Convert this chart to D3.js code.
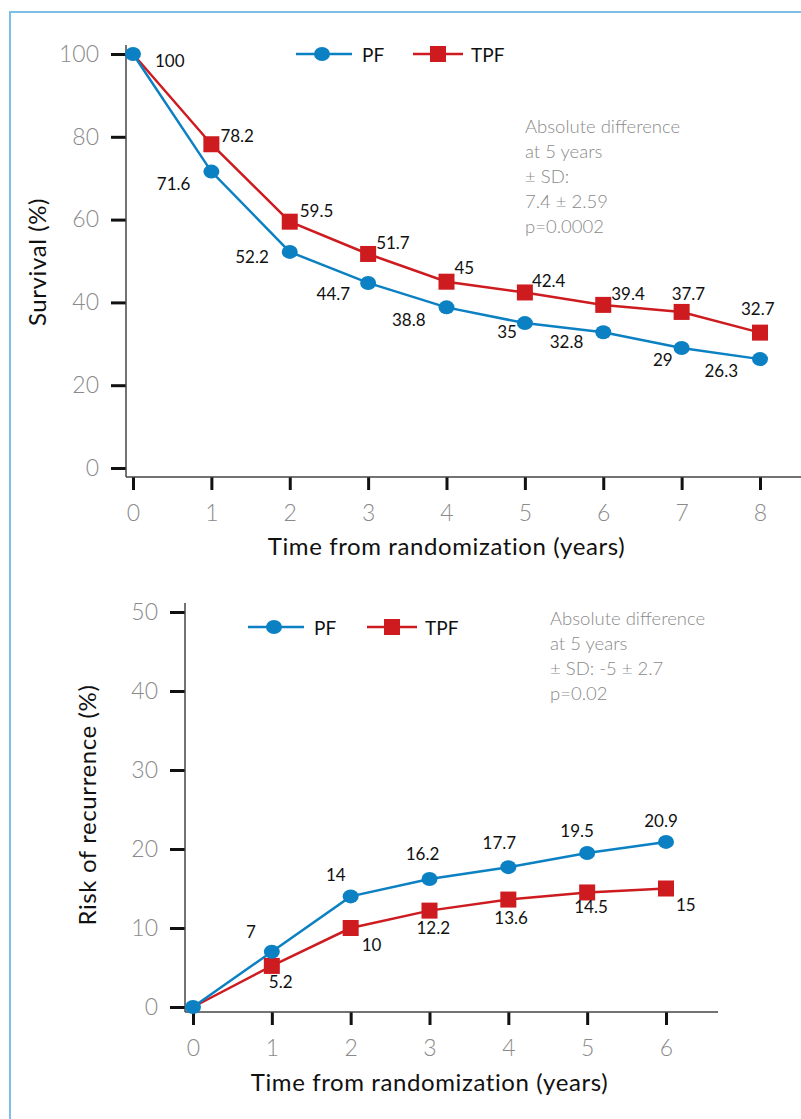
<!DOCTYPE html>
<html>
<head>
<meta charset="utf-8">
<script src="https://cdn.jsdelivr.net/npm/d3@7"></script>
<style>
  body { margin: 0; background: #fff; }
  svg { display: block; }
  .tick text { font-family: Lato, "Open Sans", sans-serif; font-weight: 300; fill: #8a8a8a; }
  .lbl { font-family: Lato, "Liberation Sans", sans-serif; font-size: 17px; fill: #111; }
  .title { font-family: Lato, "Liberation Sans", sans-serif; font-size: 24px; letter-spacing: 0.6px; fill: #111; }
  .note { font-family: Lato, "Open Sans", sans-serif; font-weight: 300; font-size: 18.5px; fill: #8a8a8a; }
</style>
</head>
<body>
<script>
'use strict';

var width = 801,
    height = 1119,
    blue = "#0b80c2",
    red = "#cd1b20";

// survival chart
var survYears = [0, 1, 2, 3, 4, 5, 6, 7, 8],
    survPF = [100, 71.6, 52.2, 44.7, 38.8, 35, 32.8, 29, 26.3],
    survTPF = [100, 78.2, 59.5, 51.7, 45, 42.4, 39.4, 37.7, 32.7],
    survYTicks = [0, 20, 40, 60, 80, 100],
    survNote = ["Absolute difference", "at 5 years", "\u00b1 SD:", "7.4 \u00b1 2.59", "p=0.0002"];

// recurrence chart
var recYears = [0, 1, 2, 3, 4, 5, 6],
    recPF = [0, 7, 14, 16.2, 17.7, 19.5, 20.9],
    recTPF = [0, 5.2, 10, 12.2, 13.6, 14.5, 15],
    recYTicks = [0, 10, 20, 30, 40, 50],
    recNote = ["Absolute difference", "at 5 years", "\u00b1 SD: -5 \u00b1 2.7", "p=0.02"];

// where each value label sits relative to its marker: [anchor, dx, dy], null = no label
var survPFLabelPos = [["start", 22, 13], ["end", -21, 18], ["end", -21, 11], ["end", -18, 17],
                      ["end", -21, 19], ["end", -8, 15], ["end", -20, 16], ["end", -9, 18], ["end", -22, 18]];
var survTPFLabelPos = [null, ["start", 9, -2], ["start", 10, -5], ["start", 8, -5], ["start", 8, -8],
                       ["start", 7, -5], ["start", 8, -5], ["start", -10, -12], ["start", -19, -18]];
var recPFLabelPos = [null, ["end", -16, -14], ["end", -5, -15], ["middle", -7, -19], ["middle", -9, -18],
                     ["middle", -10, -16], ["middle", -5, -15]];
var recTPFLabelPos = [null, ["start", -3, 22], ["start", 11, 23], ["start", -13, 23], ["start", -14, 24],
                      ["start", -13, 21], ["start", 10, 22]];

var svg = d3.select("body").append("svg")
  .attr("width", width)
  .attr("height", height);

// light blue frame
svg.append("path")
  .attr("d", "M10," + height + "V12H" + width)
  .attr("fill", "none")
  .attr("stroke", "#7dbfe6")
  .attr("stroke-width", 2);

function drawChart(c) {
  var g = svg.append("g");
  var x = d3.scaleLinear().domain(c.xDomain).range(c.xRange);
  var y = d3.scaleLinear().domain(c.yDomain).range(c.yRange);

  // y axis
  var ya = g.append("g")
    .attr("transform", "translate(" + c.yAxisX + ",0)")
    .call(d3.axisLeft(y).tickValues(c.yTicks).tickFormat(d3.format("d"))
      .tickSize(15).tickPadding(12).tickSizeOuter(0));
  ya.select(".domain").remove();
  ya.selectAll(".tick line").attr("stroke", "#111").attr("stroke-width", 3);
  ya.selectAll(".tick text").style("font-size", "23px");

  // x axis
  var xa = g.append("g")
    .attr("transform", "translate(0," + c.xAxisY + ")")
    .call(d3.axisBottom(x).tickValues(c.years).tickFormat(d3.format("d"))
      .tickSize(13).tickPadding(15).tickSizeOuter(0));
  xa.select(".domain").remove();
  xa.selectAll(".tick line").attr("stroke", "#111").attr("stroke-width", 3);
  xa.selectAll(".tick text").style("font-size", "23px");

  g.append("line")
    .attr("x1", c.yAxisX).attr("x2", c.yAxisX)
    .attr("y1", c.yAxisTop).attr("y2", c.xAxisY)
    .attr("stroke", "#444").attr("stroke-width", 1.5);
  g.append("line")
    .attr("x1", c.yAxisX).attr("x2", c.xAxisEnd)
    .attr("y1", c.xAxisY).attr("y2", c.xAxisY)
    .attr("stroke", "#444").attr("stroke-width", 1.5);

  // axis titles
  g.append("text")
    .attr("class", "title")
    .attr("text-anchor", "middle")
    .attr("x", (c.xRange[0] + c.xRange[1]) / 2)
    .attr("y", c.xTitleY)
    .text("Time from randomization (years)");
  g.append("text")
    .attr("class", "title")
    .attr("text-anchor", "middle")
    .attr("transform", "translate(" + c.yTitleX + "," + c.yTitleY + ") rotate(-90)")
    .text(c.yTitle);

  var line = d3.line()
    .x(function(d) { return x(d[0]); })
    .y(function(d) { return y(d[1]); });

  var pf = c.years.map(function(t, i) { return [t, c.pf[i]]; });
  var tpf = c.years.map(function(t, i) { return [t, c.tpf[i]]; });

  // TPF drawn first so PF sits on top at the start
  g.append("path").datum(tpf)
    .attr("d", line).attr("fill", "none")
    .attr("stroke", red).attr("stroke-width", 2.5);
  g.append("path").datum(pf)
    .attr("d", line).attr("fill", "none")
    .attr("stroke", blue).attr("stroke-width", 2.5);

  g.selectAll("rect.tpf").data(tpf.slice(1))
    .enter().append("rect")
    .attr("class", "tpf")
    .attr("x", function(d) { return x(d[0]) - 8; })
    .attr("y", function(d) { return y(d[1]) - 8; })
    .attr("width", 16).attr("height", 16)
    .attr("fill", red);
  g.selectAll("ellipse.pf").data(pf)
    .enter().append("ellipse")
    .attr("class", "pf")
    .attr("cx", function(d) { return x(d[0]); })
    .attr("cy", function(d) { return y(d[1]); })
    .attr("rx", 8).attr("ry", 7)
    .attr("fill", blue);

  function labels(data, pos) {
    data.forEach(function(d, i) {
      var p = pos[i];
      if (!p) return;
      g.append("text")
        .attr("class", "lbl")
        .attr("text-anchor", p[0])
        .attr("x", x(d[0]) + p[1])
        .attr("y", y(d[1]) + p[2])
        .text(d[1]);
    });
  }
  labels(pf, c.pfPos);
  labels(tpf, c.tpfPos);

  // legend
  var lg = g.append("g");
  lg.append("line")
    .attr("x1", c.legend[0]).attr("x2", c.legend[0] + 56)
    .attr("y1", c.legend[1]).attr("y2", c.legend[1])
    .attr("stroke", blue).attr("stroke-width", 2.5);
  lg.append("ellipse")
    .attr("cx", c.legend[0] + 26).attr("cy", c.legend[1])
    .attr("rx", 8).attr("ry", 7).attr("fill", blue);
  lg.append("text")
    .attr("class", "lbl").style("font-size", "19px")
    .attr("x", c.legend[0] + 66).attr("y", c.legend[1] + 8)
    .text("PF");
  lg.append("line")
    .attr("x1", c.legend[2]).attr("x2", c.legend[2] + 50)
    .attr("y1", c.legend[1]).attr("y2", c.legend[1])
    .attr("stroke", red).attr("stroke-width", 2.5);
  lg.append("rect")
    .attr("x", c.legend[2] + 17).attr("y", c.legend[1] - 8)
    .attr("width", 16).attr("height", 16).attr("fill", red);
  lg.append("text")
    .attr("class", "lbl").style("font-size", "19px")
    .attr("x", c.legend[2] + 58).attr("y", c.legend[1] + 8)
    .text("TPF");

  // note
  g.append("g").selectAll("text")
    .data(c.note)
    .enter().append("text")
    .attr("class", "note")
    .attr("x", c.notePos[0])
    .attr("y", function(d, i) { return c.notePos[1] + i * 25; })
    .text(function(d) { return d; });
}

drawChart({
  years: survYears, pf: survPF, tpf: survTPF, yTicks: survYTicks,
  xDomain: [0, 8], xRange: [133, 760],
  yDomain: [0, 100], yRange: [468, 54],
  yAxisX: 126, yAxisTop: 45, xAxisY: 477, xAxisEnd: 801,
  xTitleY: 555, yTitleX: 46, yTitleY: 262, yTitle: "Survival (%)",
  pfPos: survPFLabelPos, tpfPos: survTPFLabelPos,
  legend: [296, 54, 413],
  note: survNote, notePos: [525, 133]
});

drawChart({
  years: recYears, pf: recPF, tpf: recTPF, yTicks: recYTicks,
  xDomain: [0, 6], xRange: [193, 666],
  yDomain: [0, 50], yRange: [1007, 612],
  yAxisX: 185, yAxisTop: 603, xAxisY: 1012, xAxisEnd: 718,
  xTitleY: 1091, yTitleX: 96, yTitleY: 805, yTitle: "Risk of recurrence (%)",
  pfPos: recPFLabelPos, tpfPos: recTPFLabelPos,
  legend: [248, 627, 367],
  note: recNote, notePos: [550, 625]
});
</script>
</body>
</html>
